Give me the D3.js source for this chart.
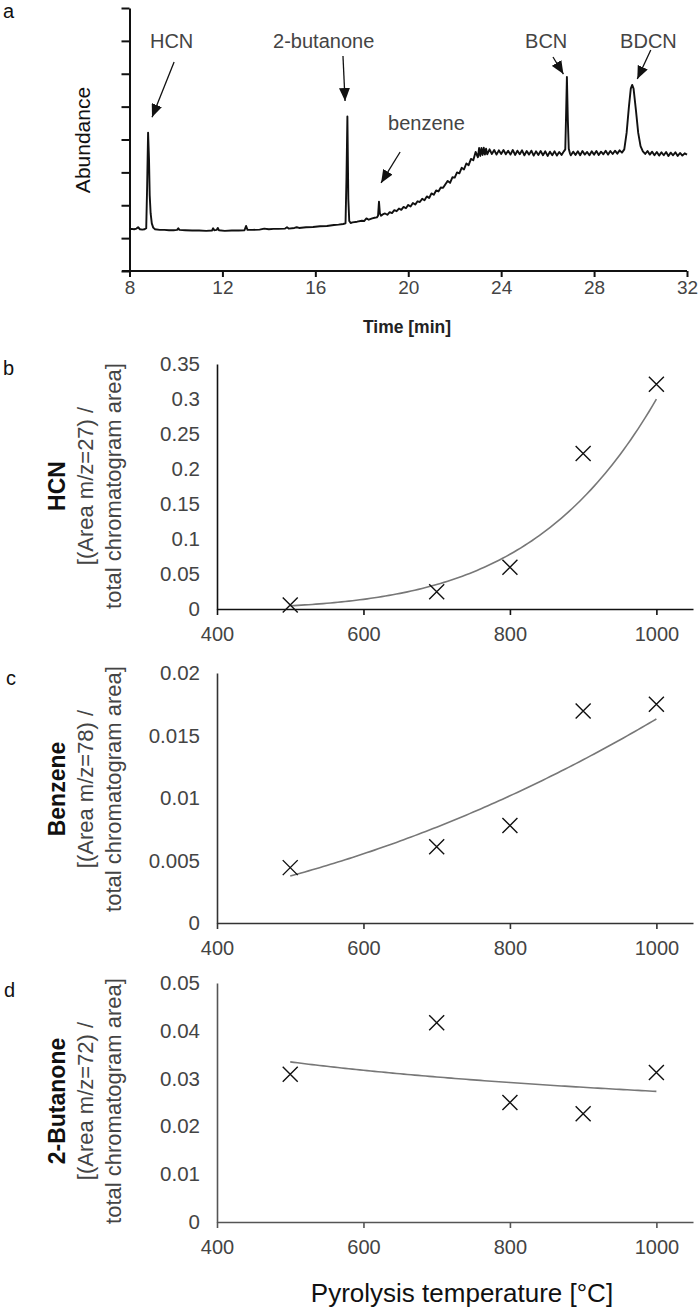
<!DOCTYPE html>
<html><head><meta charset="utf-8">
<script src="https://cdn.jsdelivr.net/npm/d3@7"></script>
<style>
body{margin:0;background:#fff}
svg{display:block}
text{font-family:"Liberation Sans",Arial,Helvetica,sans-serif}
</style>
</head><body>
<svg id="chart" width="700" height="1311"></svg>
<script>
// ---------- Panel a: chromatogram (time [min], abundance [a.u.]) ----------
const chromatogram = [
[8.00,1.27],[8.10,1.28],[8.20,1.27],[8.30,1.29],[8.37,1.33],[8.45,1.27],[8.55,1.26],[8.65,1.27],[8.72,1.30],[8.76,2.60],[8.80,4.21],[8.84,3.40],[8.87,2.30],[8.91,1.75],[8.96,1.45],[9.02,1.32],[9.10,1.27],[9.30,1.25],[9.50,1.25],[9.70,1.24],[9.90,1.24],[10.05,1.25],[10.10,1.30],[10.15,1.25],[10.40,1.24],[10.70,1.23],[11.00,1.23],[11.30,1.22],[11.55,1.23],[11.60,1.30],[11.65,1.24],[11.75,1.25],[11.80,1.31],[11.85,1.24],[12.10,1.22],[12.40,1.23],[12.70,1.23],[12.95,1.24],[13.02,1.37],[13.08,1.25],[13.30,1.25],[13.60,1.26],[13.80,1.29],[14.00,1.27],[14.20,1.28],[14.40,1.28],[14.70,1.29],[14.78,1.33],[14.85,1.29],[15.10,1.31],[15.20,1.33],[15.30,1.31],[15.60,1.33],[15.90,1.34],[16.20,1.36],[16.50,1.37],[16.80,1.40],[17.00,1.41],[17.20,1.43],[17.30,1.45],[17.34,2.80],[17.38,4.70],[17.42,2.20],[17.46,1.52],[17.52,1.46],[17.60,1.48],[17.80,1.50],[18.00,1.53],[18.10,1.52],[18.20,1.60],[18.30,1.56],[18.45,1.60],[18.55,1.62],[18.65,1.63],[18.70,1.68],[18.74,2.11],[18.78,1.75],[18.83,1.68],[18.90,1.72],
[19.00,1.75],[19.10,1.71],[19.20,1.79],[19.30,1.76],[19.40,1.85],[19.50,1.82],[19.60,1.90],[19.70,1.86],[19.80,1.95],[19.90,1.91],[20.00,2.01],[20.10,1.96],[20.20,2.07],[20.30,2.02],[20.40,2.12],[20.50,2.10],[20.60,2.20],[20.70,2.15],[20.80,2.27],[20.90,2.22],[21.00,2.36],[21.10,2.32],[21.20,2.45],[21.30,2.42],[21.40,2.54],[21.50,2.53],[21.60,2.64],[21.70,2.74],[21.80,2.68],[21.90,2.85],[22.00,2.84],[22.10,3.00],[22.20,2.97],[22.30,3.14],[22.40,3.09],[22.50,3.27],[22.60,3.22],[22.70,3.41],[22.80,3.37],[22.90,3.62],[23.00,3.46],[23.05,3.74],[23.10,3.50],[23.15,3.74],[23.20,3.53],[23.25,3.75],[23.30,3.54],[23.35,3.72],
[23.40,3.55],[23.50,3.70],[23.60,3.56],[23.70,3.68],[23.80,3.54],[23.90,3.67],[24.00,3.56],[24.10,3.68],[24.20,3.55],[24.30,3.66],[24.40,3.54],[24.50,3.68],[24.60,3.53],[24.70,3.66],[24.80,3.55],[24.90,3.67],[25.00,3.52],[25.10,3.65],[25.20,3.54],[25.30,3.66],[25.40,3.51],[25.50,3.64],[25.60,3.53],[25.70,3.65],[25.80,3.52],[25.90,3.64],[26.00,3.50],[26.10,3.63],[26.20,3.52],[26.30,3.64],[26.40,3.51],[26.50,3.62],[26.60,3.53],[26.70,3.64],[26.76,3.70],[26.79,4.60],[26.83,5.90],[26.87,4.60],[26.91,3.72],[26.96,3.58],
[27.00,3.52],[27.10,3.63],[27.20,3.53],[27.30,3.64],[27.40,3.52],[27.50,3.65],[27.60,3.54],[27.70,3.62],[27.80,3.52],[27.90,3.64],[28.00,3.54],[28.10,3.65],[28.20,3.53],[28.30,3.63],[28.40,3.55],[28.50,3.66],[28.60,3.54],[28.70,3.65],[28.80,3.56],[28.90,3.66],[29.00,3.57],[29.10,3.67],[29.20,3.60],[29.30,3.70],[29.40,4.20],[29.50,5.00],[29.58,5.55],[29.64,5.66],[29.70,5.55],[29.80,4.90],[29.90,4.20],[30.00,3.80],[30.10,3.64],
[30.20,3.56],[30.30,3.65],[30.40,3.54],[30.50,3.63],[30.60,3.52],[30.70,3.62],[30.80,3.51],[30.90,3.61],[31.00,3.52],[31.10,3.62],[31.20,3.50],[31.30,3.60],[31.40,3.52],[31.50,3.61],[31.60,3.50],[31.70,3.59],[31.80,3.51],[31.90,3.58],[32.00,3.54]
];
const timeTicks = [8,12,16,20,24,28,32];
const abundanceTicks = [0,1,2,3,4,5,6,7,8];
const peakNames = ["HCN","2-butanone","benzene","BCN","BDCN"];
const peakLabelTime = [8.88,14.18,19.13,25.03,29.12];
const peakLabelAbund = [6.78,6.78,4.29,6.78,6.78];
const arrowStartTime = [9.92,17.19,19.65,26.23,30.44];
const arrowStartAbund = [6.36,6.54,3.62,6.51,6.72];
const arrowEndTime = [8.97,17.28,18.83,26.68,29.86];
const arrowEndAbund = [4.68,5.17,2.68,5.99,5.84];

// ---------- Panels b-d: pyrolysis temperature vs relative area ----------
const temperatures = [500,700,800,900,1000];
const hcnArea = [0.0057,0.0247,0.0596,0.222,0.321];
const benzeneArea = [0.00443,0.0061,0.0078,0.01696,0.0175];
const butanoneArea = [0.0309,0.0417,0.025,0.02265,0.0313];
const temperatureTicks = [400,600,800,1000];
const hcnTicks = [0,0.05,0.1,0.15,0.2,0.25,0.3,0.35];
const benzeneTicks = [0,0.005,0.01,0.015,0.02];
const butanoneTicks = [0,0.01,0.02,0.03,0.04,0.05];

const svg = d3.select("#chart");
const FONT = '"Liberation Sans",Arial,sans-serif';

// arrow head marker
svg.append("defs").append("marker")
  .attr("id","ah").attr("viewBox","0 0 13 11").attr("refX",13).attr("refY",5.5)
  .attr("markerWidth",13).attr("markerHeight",11).attr("markerUnits","userSpaceOnUse")
  .attr("orient","auto")
  .append("path").attr("d","M0,0L13,5.5L0,11Z").attr("fill","#111");

// ===== Panel a =====
const xa = d3.scaleLinear().domain([8,32]).range([129.5,687]);
const ya = d3.scaleLinear().domain([0,8]).range([271,8]);
const ga = svg.append("g");

ga.append("text").attr("x",3).attr("y",18).attr("font-size",20).attr("fill","#111").text("a");

const axA = ga.append("g").attr("transform","translate(0,271)")
  .call(d3.axisBottom(xa).tickValues(timeTicks).tickSize(6).tickSizeOuter(0).tickPadding(4).tickFormat(d3.format("d")));
axA.select(".domain").attr("d","M122,0H687").attr("stroke","#111").attr("stroke-width",2);
axA.selectAll(".tick line").attr("stroke","#111").attr("stroke-width",2);
axA.selectAll("text").attr("font-size",19).attr("font-family",FONT).attr("fill","#444");

const ayA = ga.append("g").attr("transform","translate(129.5,0)")
  .call(d3.axisLeft(ya).tickValues(abundanceTicks).tickSize(8).tickSizeOuter(0).tickFormat(""));
ayA.select(".domain").attr("stroke","#111").attr("stroke-width",2);
ayA.selectAll(".tick line").attr("stroke","#111").attr("stroke-width",2);

ga.append("path").datum(chromatogram)
  .attr("fill","none").attr("stroke","#111").attr("stroke-width",1.9).attr("stroke-linejoin","round")
  .attr("d",d3.line().x(d=>xa(d[0])).y(d=>ya(d[1])));

peakNames.forEach((name,i)=>{
  ga.append("text").attr("x",xa(peakLabelTime[i])).attr("y",ya(peakLabelAbund[i]))
    .attr("font-size",20).attr("fill","#444").text(name);
  ga.append("line")
    .attr("x1",xa(arrowStartTime[i])).attr("y1",ya(arrowStartAbund[i]))
    .attr("x2",xa(arrowEndTime[i])).attr("y2",ya(arrowEndAbund[i]))
    .attr("stroke","#111").attr("stroke-width",1.3).attr("marker-end","url(#ah)");
});

ga.append("text").attr("transform","translate(90,140) rotate(-90)")
  .attr("text-anchor","middle").attr("font-size",21).attr("fill","#111").text("Abundance");
ga.append("text").attr("x",407).attr("y",333).attr("text-anchor","middle")
  .attr("font-size",17.5).attr("font-weight","bold").attr("fill","#222").text("Time [min]");

// ===== Panels b-d =====
function powerFit(xs, ys){
  const lx = xs.map(Math.log), ly = ys.map(Math.log);
  const mx = d3.mean(lx), my = d3.mean(ly);
  const b = d3.sum(lx,(v,i)=>(v-mx)*(ly[i]-my)) / d3.sum(lx,v=>(v-mx)*(v-mx));
  const a = Math.exp(my - b*mx);
  return x => a*Math.pow(x,b);
}

function panel(cfg){
  const g = svg.append("g");
  const x = d3.scaleLinear().domain([400,1050]).range([217,693]);
  const y = d3.scaleLinear().domain([0,cfg.ticks[cfg.ticks.length-1]]).range([cfg.bottom,cfg.top]);

  g.append("text").attr("x",cfg.letterX).attr("y",cfg.letterY).attr("font-size",20).attr("fill","#111").text(cfg.letter);

  const ax = g.append("g").attr("transform",`translate(0,${cfg.bottom})`)
    .call(d3.axisBottom(x).tickValues(temperatureTicks).tickSize(6).tickSizeOuter(0).tickPadding(12).tickFormat(d3.format("d")));
  ax.select(".domain").attr("stroke",cfg.axisColor).attr("stroke-width",1.6);
  ax.selectAll(".tick line").attr("stroke",cfg.axisColor).attr("stroke-width",1.6);
  ax.selectAll("text").attr("font-size",20).attr("font-family",FONT).attr("fill","#444");

  const ay = g.append("g").attr("transform","translate(217,0)")
    .call(d3.axisLeft(y).tickValues(cfg.ticks).tickSize(0).tickSizeOuter(0).tickPadding(17)
      .tickFormat(d=>String(+d.toFixed(4))));
  ay.select(".domain").attr("stroke",cfg.axisColor).attr("stroke-width",1.6);
  ay.selectAll("text").attr("font-size",20.5).attr("font-family",FONT).attr("fill","#444");

  const f = powerFit(temperatures, cfg.values);
  const xs = d3.range(500,1000.1,5);
  g.append("path").datum(xs).attr("fill","none").attr("stroke","#777").attr("stroke-width",1.6)
    .attr("d",d3.line().x(t=>x(t)).y(t=>y(f(t))));

  g.selectAll("path.pt").data(temperatures).join("path").attr("class","pt")
    .attr("transform",(t,i)=>`translate(${x(t)},${y(cfg.values[i])})`)
    .attr("d","M-7.5,-7.5L7.5,7.5M-7.5,7.5L7.5,-7.5")
    .attr("stroke","#111").attr("stroke-width",1.4).attr("fill","none");

  const cy = cfg.labelCenter;
  g.append("text").attr("transform",`translate(65,${cy}) rotate(-90)`).attr("text-anchor","middle")
    .attr("font-size",23).attr("font-weight","bold").attr("fill","#111").text(cfg.name);
  g.append("text").attr("transform",`translate(92.5,${cy}) rotate(-90)`).attr("text-anchor","middle")
    .attr("font-size",22).attr("fill","#444").text(cfg.line2);
  g.append("text").attr("transform",`translate(120.5,${cy}) rotate(-90)`).attr("text-anchor","middle")
    .attr("font-size",22).attr("fill","#444").text("total chromatogram area]");
}

panel({letter:"b",letterX:3,letterY:375,top:364,bottom:609,ticks:hcnTicks,values:hcnArea,
  axisColor:"#111",name:"HCN",line2:"[(Area m/z=27) /",labelCenter:486});
panel({letter:"c",letterX:6,letterY:685,top:673,bottom:923,ticks:benzeneTicks,values:benzeneArea,
  axisColor:"#333",name:"Benzene",line2:"[(Area m/z=78) /",labelCenter:789});
panel({letter:"d",letterX:4,letterY:997,top:983,bottom:1222,ticks:butanoneTicks,values:butanoneArea,
  axisColor:"#555",name:"2-Butanone",line2:"[(Area m/z=72) /",labelCenter:1101});

svg.append("text").attr("x",462).attr("y",1302).attr("text-anchor","middle")
  .attr("font-size",26).attr("fill","#111").text("Pyrolysis temperature [°C]");
</script>
</body></html>
